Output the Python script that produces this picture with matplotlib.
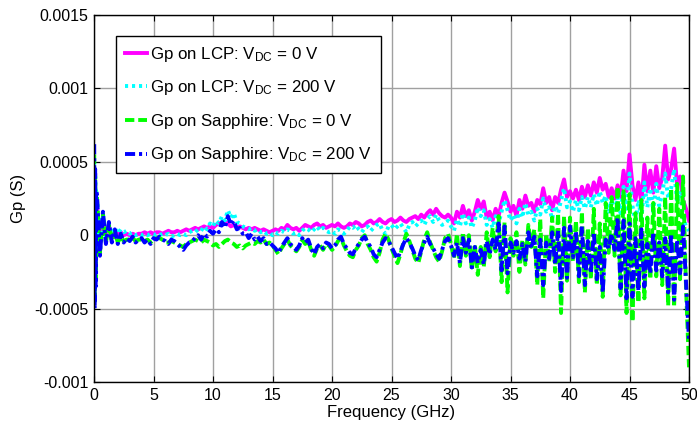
import numpy as np
import matplotlib
matplotlib.use("Agg")
import matplotlib.pyplot as plt

plt.rcParams["font.family"] = ["Liberation Sans", "DejaVu Sans"]
plt.rcParams["mathtext.default"] = "regular"

# Sweep frequencies (GHz): a few points right at the low end, then a 0.25 GHz grid
freq_low = [0.02, 0.06, 0.10, 0.14, 0.18]
freq_step = 0.25
n_steps = 200

# Parallel conductance Gp, in units of 1e-4 S
gp_lcp_0v = [
    4.0, -1.5, 3.0, -0.5, 2.5,
    2.0, -0.6, 1.2, 0.0, 0.6, 0.1, 0.3, 0.0, 0.2, 0.0, 0.1, 0.0, 0.1, 0.0, 0.1, 0.1, 0.2, 0.1, 0.2, 0.1,
    0.2, 0.2, 0.1, 0.2, 0.3, 0.2, 0.2, 0.3, 0.2, 0.3, 0.4, 0.3, 0.4, 0.5, 0.4, 0.5, 0.6, 0.5, 0.6, 0.5,
    0.7, 0.8, 0.7, 0.9, 0.8, 0.6, 0.7, 0.5, 0.6, 0.5, 0.4, 0.5, 0.4, 0.5, 0.4, 0.3, 0.4, 0.3, 0.2, 0.3,
    0.4, 0.3, 0.5, 0.4, 0.7, 0.5, 0.4, 0.5, 0.3, 0.5, 0.7, 0.6, 0.5, 0.7, 0.8, 0.6, 0.7, 0.5, 0.6, 0.7,
    0.6, 0.8, 0.6, 0.5, 0.6, 0.8, 0.7, 0.9, 0.8, 0.6, 0.7, 0.9, 1.0, 0.8, 0.9, 1.1, 0.9, 0.8, 1.0, 1.1,
    0.9, 1.0, 1.2, 1.0, 0.9, 1.1, 1.2, 1.3, 1.1, 1.4, 1.2, 1.5, 1.7, 1.4, 1.8, 1.5, 1.3, 1.2, 1.4, 1.2,
    0.8, 1.6, 1.2, 2.0, 1.3, 1.7, 1.0, 1.6, 2.4, 1.8, 2.3, 1.2, 1.6, 1.0, 1.8, 1.3, 2.2, 2.9, 2.3, 1.6,
    2.0, 1.3, 2.4, 1.8, 2.7, 2.0, 2.2, 1.6, 2.4, 2.1, 3.2, 2.2, 2.6, 1.7, 2.6, 2.2, 3.1, 3.8, 2.6, 3.0,
    2.5, 3.1, 2.4, 3.3, 2.6, 3.4, 2.7, 3.6, 2.9, 3.9, 3.1, 3.5, 2.6, 3.2, 2.5, 3.4, 2.6, 4.4, 3.0, 5.5,
    3.4, 2.4, 3.6, 2.2, 4.8, 3.0, 4.4, 2.9, 4.7, 3.2, 3.9, 6.1, 3.8, 4.5, 5.9, 3.4, 4.0, 2.4, 1.8, 1.0,
]

gp_lcp_200v = [
    5.0, -2.0, 4.0, -1.0, 3.0,
    2.6, -0.8, 1.5, -0.1, 0.8, 0.1, 0.5, 0.1, 0.4, 0.2, 0.3, 0.1, 0.2, 0.0, 0.1, 0.0, 0.1, 0.0, 0.1, 0.0,
    0.1, 0.0, 0.1, 0.0, 0.1, -0.1, 0.0, 0.1, 0.0, 0.1, 0.0, 0.2, 0.3, 0.2, 0.4, 0.3, 0.6, 0.4, 0.8, 0.6,
    1.0, 0.8, 1.3, 1.0, 1.7, 1.2, 1.5, 0.9, 0.8, 0.6, 0.5, 0.4, 0.5, 0.3, 0.4, 0.2, 0.3, 0.1, 0.2, 0.0,
    0.2, 0.1, 0.3, 0.2, 0.4, 0.3, 0.1, 0.2, 0.0, 0.3, 0.5, 0.4, 0.2, 0.4, 0.6, 0.3, 0.5, 0.3, 0.2, 0.3,
    0.1, 0.4, 0.3, 0.1, 0.3, 0.6, 0.5, 0.7, 0.4, 0.2, 0.5, 0.6, 0.3, 0.5, 0.7, 0.8, 0.3, 0.1, 0.6, 0.7,
    0.4, 0.6, 0.8, 0.5, 0.2, 0.7, 0.9, 0.6, 0.8, 1.0, 0.7, 1.1, 1.3, 0.9, 1.4, 1.0, 0.7, 0.8, 1.0, 0.6,
    0.3, 1.1, 0.6, 1.5, 0.8, 1.2, 0.5, 1.0, 1.9, 1.3, 1.7, 0.7, 1.1, 0.5, 1.3, 0.8, 1.6, 2.4, 1.7, 1.0,
    1.4, 0.8, 1.8, 1.2, 2.2, 1.4, 1.6, 1.0, 1.8, 1.4, 2.5, 1.6, 1.9, 1.1, 2.0, 1.5, 2.4, 3.2, 1.9, 2.3,
    1.6, 2.4, 1.7, 2.6, 1.8, 2.6, 1.9, 2.8, 2.0, 3.0, 2.2, 2.7, 1.6, 2.4, 1.5, 2.6, 1.5, 3.3, 1.8, 4.2,
    2.0, 0.8, 2.4, 1.0, 3.6, 1.9, 3.2, 1.6, 3.5, 2.0, 2.8, 4.2, 2.5, 3.2, 4.5, 2.2, 3.0, 1.2, 0.6, 0.3,
]

gp_sapphire_0v = [
    5.5, -4.5, 4.0, -3.0, 2.8,
    2.5, -1.2, 1.4, -0.5, 0.7, -0.4, 0.2, -0.5, -0.1, -0.4, -0.3, -0.3, -0.2, -0.4, -0.3, -0.3, -0.4, -0.3, -0.5, -0.3,
    -0.2, -0.2, -0.3, -0.5, -0.5, -0.4, -0.5, -0.6, -0.7, -0.8, -0.6, -0.5, -0.4, -0.3, -0.4, -0.5, -0.3, -0.4, -0.5, -0.7,
    -0.6, -0.8, -0.6, -0.4, -0.3, -0.5, -0.6, -0.8, -0.7, -0.9, -0.7, -0.6, -0.5, -0.6, -0.4, -0.5, -0.3, -0.6, -0.5, -0.7,
    -1.0, -1.3, -0.9, -0.6, -0.3, -0.7, -0.9, -1.1, -0.8, -0.3, -0.6, -0.4, -1.0, -1.4, -0.9, -0.7, -1.0, -0.6, -0.7, -1.0,
    -0.8, -0.4, -0.2, -0.7, -1.1, -1.4, -1.5, -1.0, -0.7, -0.2, 0.0, -0.6, -1.0, -1.5, -1.8, -1.2, -0.3, 0.1, -0.3, -0.9,
    -1.4, -1.9, -1.3, -0.5, 0.1, -0.4, -1.0, -1.6, -1.9, -1.1, -0.3, 0.2, -0.5, -1.0, -1.5, -1.8, -1.1, -0.2, 0.1, -0.6,
    -1.6, 0.1, -2.1, 0.2, -1.4, 0.0, -2.4, -0.6, -2.7, -0.8, -2.2, 0.2, -1.5, 0.5, -1.1, 1.3, -3.2, 0.9, -3.9, -0.2,
    -1.4, 0.2, -2.5, -0.3, -2.0, 0.7, -0.8, 0.4, -3.4, 1.1, -4.3, 0.1, -1.8, 1.2, -2.5, 1.5, -5.3, 1.3, -3.1, 1.2,
    -1.8, 1.0, -3.2, 1.6, -3.9, 0.5, -3.0, 1.8, -3.4, 0.8, -4.2, 2.2, -1.2, 2.6, -1.4, 3.3, -4.1, 3.0, -5.3, 2.8,
    -5.9, 1.5, -4.6, 2.4, -4.3, 1.2, -3.0, 2.2, -2.8, 1.8, -3.4, 2.6, -4.8, 3.2, -4.9, 3.5, -3.0, 4.0, -3.6, -9.0,
]

gp_sapphire_200v = [
    6.2, -5.0, 4.5, -3.5, 3.0,
    2.8, -1.4, 1.6, -0.6, 0.9, -0.5, 0.4, -0.6, 0.1, -0.5, -0.2, -0.4, -0.1, -0.5, -0.3, -0.2, -0.5, -0.3, -0.6, -0.2,
    -0.3, -0.1, -0.3, -0.4, -0.6, -0.3, -0.4, -0.6, -0.8, -1.0, -0.7, -0.5, -0.4, -0.2, 0.0, -0.3, 0.1, -0.1, 0.3, 0.1,
    0.4, 0.2, 0.9, 0.5, 1.3, 0.7, 1.0, 0.4, 0.5, 0.1, 0.2, -0.2, 0.1, -0.3, -0.1, -0.4, -0.2, -0.6, -0.5, -0.7,
    -0.9, -1.2, -0.8, -0.5, -0.2, -0.6, -0.8, -1.0, -0.7, -0.2, -0.5, -0.3, -0.9, -1.3, -0.8, -0.6, -0.9, -0.5, -0.6, -0.9,
    -0.7, -0.3, -0.1, -0.6, -0.9, -1.2, -1.3, -0.9, -0.6, -0.3, -0.1, -0.5, -0.8, -1.3, -1.5, -1.0, -0.5, -0.2, -0.4, -0.8,
    -1.2, -1.6, -1.1, -0.6, -0.2, -0.5, -0.9, -1.4, -1.7, -1.0, -0.5, -0.1, -0.6, -0.9, -1.3, -1.6, -1.0, -0.4, -0.2, -0.7,
    -1.4, -0.5, -1.9, -0.2, -1.2, -0.3, -2.2, -0.8, -1.9, -1.0, -2.0, -0.4, -1.3, -0.3, -1.0, 0.8, -2.4, 0.6, -2.6, -0.5,
    -1.2, -0.4, -1.6, -0.6, -1.8, 0.2, -0.9, -0.1, -2.8, -0.3, -3.4, -0.5, -1.6, 0.2, -2.0, 0.3, -3.8, 0.5, -2.9, 0.6,
    -1.5, 0.3, -2.8, 0.6, -3.4, -0.4, -2.6, 0.2, -3.0, -0.8, -3.9, -0.3, -0.9, 0.1, -1.0, 1.2, -3.6, 1.0, -4.3, 0.8,
    -4.2, -0.2, -3.8, 0.4, -3.5, -0.6, -2.6, 0.2, -2.4, -0.5, -2.8, -0.2, -3.9, 0.1, -4.4, -0.3, -2.6, 0.6, -3.2, -7.2,
]

series_labels = [
    "Gp on LCP: V$_{DC}$ = 0 V",
    "Gp on LCP: V$_{DC}$ = 200 V",
    "Gp on Sapphire: V$_{DC}$ = 0 V",
    "Gp on Sapphire: V$_{DC}$ = 200 V",
]

x_ticks = [0, 5, 10, 15, 20, 25, 30, 35, 40, 45, 50]
y_ticks = [-0.001, -0.0005, 0, 0.0005, 0.001, 0.0015]
y_tick_labels = ["-0.001", "-0.0005", "0", "0.0005", "0.001", "0.0015"]

freq = np.concatenate([freq_low, np.arange(1, n_steps + 1) * freq_step])
unit = 1e-4

fig = plt.figure(figsize=(6.97, 4.30), dpi=100)
ax = fig.add_axes([94 / 697, 48 / 430, 595 / 697, 367 / 430])

styles = [
    ("#ff00ff", "-"),
    ("#00ffff", (0, (0.8, 1.0))),
    ("#00ff00", (0, (2.4, 1.0))),
    ("#0000ff", (0, (2.6, 1.0, 0.8, 1.0))),
]
data = [gp_lcp_0v, gp_lcp_200v, gp_sapphire_0v, gp_sapphire_200v]
for values, (color, ls), label in zip(data, styles, series_labels):
    ax.plot(freq, np.asarray(values) * unit, color=color, ls=ls, lw=2.8, label=label)

ax.set_xlim(0, 50)
ax.set_ylim(-0.001, 0.0015)
ax.set_xticks(x_ticks)
ax.set_yticks(y_ticks)
ax.set_yticklabels(y_tick_labels)
ax.tick_params(direction="in", top=True, right=True, length=4, width=0.8,
               labelsize=11.5, pad=4, colors="black")
ax.grid(True, color="#a0a0a0", lw=1.0)
ax.set_axisbelow(True)
for sp in ax.spines.values():
    sp.set_linewidth(1.0)
    sp.set_color("black")

ax.set_xlabel("Frequency (GHz)", fontsize=12, labelpad=2)
ax.set_ylabel("Gp (S)", fontsize=12, labelpad=6)

leg = ax.legend(loc="upper left", bbox_to_anchor=(0.037, 0.943), borderaxespad=0,
                fancybox=False, framealpha=1, edgecolor="black", fontsize=12.2,
                handlelength=1.3, handletextpad=0.2, labelspacing=0.86, borderpad=0.52)
leg.get_frame().set_linewidth(1.0)

fig.savefig("out.png", dpi=100)
